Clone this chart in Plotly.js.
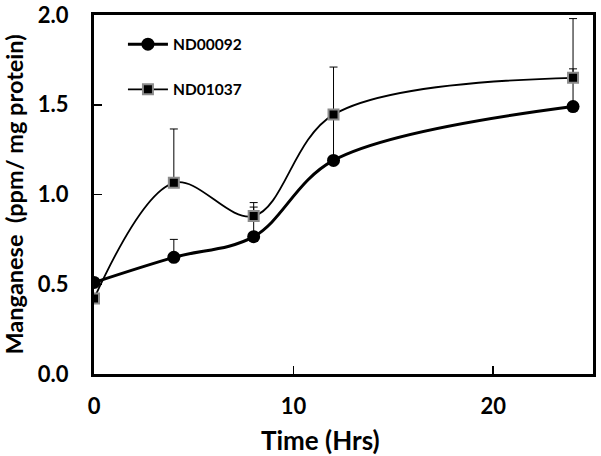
<!DOCTYPE html>
<html>
<head>
<meta charset="utf-8">
<script src="https://cdn.plot.ly/plotly-3.0.1.min.js"></script>
<style>html,body{margin:0;padding:0;background:#fff;}#chart{width:601px;height:456px;}</style>
</head>
<body>
<div id="chart"></div>
<script>
const timeHrs = [0, 4, 8, 12, 24];
const nd00092 = [0.51, 0.65, 0.765, 1.19, 1.49];
const nd00092Err = [0, 0.10, 0.165, 0.25, 0.21];
const nd01037 = [0.42, 1.065, 0.88, 1.445, 1.65];
const nd01037Err = [0, 0.30, 0.075, 0.265, 0.33];
const zeros = [0, 0, 0, 0, 0];
const xTicks = [0, 10, 20];
const yTicks = [0, 0.5, 1.0, 1.5, 2.0];
const yTickText = ['0.0', '0.5', '1.0', '1.5', '2.0'];

const FONT = 'Lato, "Open Sans", sans-serif';

const traces = [
  {
    x: timeHrs, y: nd00092, name: 'ND00092', legendgroup: 'a',
    type: 'scatter', mode: 'lines+markers',
    line: {color: '#000', width: 3, shape: 'spline', smoothing: 1},
    marker: {symbol: 'circle', size: 13, color: '#000'},
    error_y: {type: 'data', array: nd00092Err, arrayminus: zeros, symmetric: false,
              color: '#000', thickness: 1, width: 4}
  },
  {
    x: timeHrs, y: nd01037, name: 'ND01037', legendgroup: 'b',
    type: 'scatter', mode: 'lines+markers',
    line: {color: '#000', width: 1.8, shape: 'spline', smoothing: 1},
    marker: {symbol: 'square', size: 10, color: '#000', line: {color: '#8c8c8c', width: 2}},
    error_y: {type: 'data', array: nd01037Err, arrayminus: zeros, symmetric: false,
              color: '#000', thickness: 1, width: 4}
  }
];

const layout = {
  width: 601, height: 456,
  margin: {l: 94, r: 8, t: 15, b: 82},
  paper_bgcolor: '#fff', plot_bgcolor: '#fff',
  font: {family: FONT, color: '#000'},
  showlegend: true,
  legend: {
    x: 0.058, y: 0.965, xanchor: 'left', yanchor: 'top',
    bgcolor: 'rgba(0,0,0,0)', borderwidth: 0,
    font: {family: FONT, size: 15.5, color: '#000', weight: 'bold'},
    tracegroupgap: 22, itemwidth: 40
  },
  xaxis: {
    range: [0, 25], tickvals: xTicks, ticktext: xTicks.map(String),
    showline: true, linecolor: '#000', linewidth: 3, mirror: true,
    ticks: 'inside', ticklen: 8, tickwidth: 1.5, tickcolor: '#000',
    showgrid: false, zeroline: false,
    tickfont: {family: FONT, size: 22, color: '#000', weight: 'bold'},
    ticklabelstandoff: 11
  },
  yaxis: {
    range: [0, 2], tickvals: yTicks, ticktext: yTickText,
    showline: true, linecolor: '#000', linewidth: 3, mirror: true,
    ticks: 'inside', ticklen: 8, tickwidth: 1.5, tickcolor: '#000',
    showgrid: false, zeroline: false,
    tickfont: {family: FONT, size: 22, color: '#000', weight: 'bold'},
    ticklabelstandoff: 18,
    title: {text: 'Manganese  (ppm/ mg protein)', font: {family: FONT, size: 23.5, color: '#000', weight: 'bold'}, standoff: 9}
  },
  annotations: [
    {text: 'Time (Hrs)', xref: 'paper', yref: 'paper', x: 0.453, y: -0.134,
     xanchor: 'center', yanchor: 'top', showarrow: false,
     font: {family: FONT, size: 26, color: '#000', weight: 'bold'}}
  ]
};

Plotly.newPlot('chart', traces, layout, {staticPlot: true, displayModeBar: false});
</script>
</body>
</html>
